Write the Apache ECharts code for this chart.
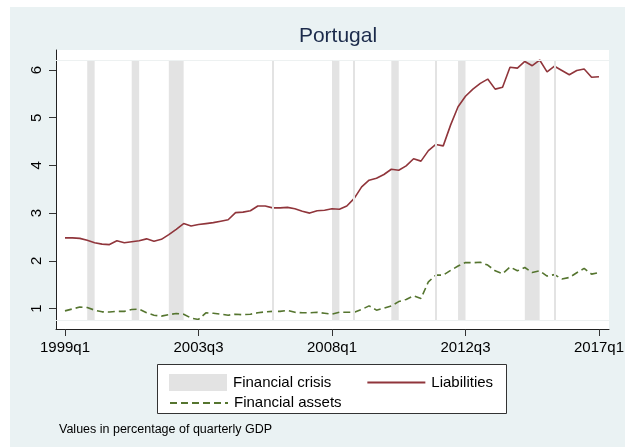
<!DOCTYPE html>
<html>
<head>
<meta charset="utf-8">
<script src="https://cdn.jsdelivr.net/npm/echarts@6/dist/echarts.min.js"></script>
<style>
  html, body { margin: 0; padding: 0; background: #fff; }
  #chart { width: 639px; height: 448px; }
</style>
</head>
<body>
<div id="chart"></div>
<script>
// quarter index 0 = 1999q1 ... 72 = 2017q1
const tickPositions = [0, 18, 36, 54, 72]
const tickLabels = ['1999q1', '2003q3', '2008q1', '2012q3', '2017q1']
const yTicks = [1, 2, 3, 4, 5, 6]

const liabilities = [
  2.48, 2.48, 2.47, 2.43, 2.38, 2.35, 2.34, 2.42, 2.38, 2.40,
  2.42, 2.46, 2.41, 2.45, 2.55, 2.66, 2.78, 2.73, 2.76, 2.78,
  2.80, 2.83, 2.86, 3.01, 3.02, 3.05, 3.15, 3.15, 3.11, 3.11,
  3.12, 3.09, 3.04, 3.00, 3.05, 3.06, 3.09, 3.08, 3.15, 3.31,
  3.55, 3.69, 3.73, 3.81, 3.92, 3.90, 3.99, 4.14, 4.09, 4.31,
  4.44, 4.41, 4.85, 5.23, 5.45, 5.60, 5.72, 5.81, 5.60, 5.64,
  6.06, 6.04, 6.18, 6.09, 6.21, 5.96, 6.08, 5.99, 5.90, 5.99,
  6.02, 5.85, 5.86
]

const assets = [
  0.95, 0.99, 1.03, 1.02, 0.965, 0.93, 0.925, 0.94, 0.94, 0.98,
  0.985, 0.91, 0.86, 0.84, 0.87, 0.895, 0.88, 0.80, 0.77, 0.91,
  0.90, 0.88, 0.86, 0.88, 0.87, 0.88, 0.91, 0.93, 0.94, 0.94,
  0.96, 0.92, 0.91, 0.91, 0.92, 0.90, 0.88, 0.92, 0.92, 0.92,
  0.98, 1.055, 0.965, 1.005, 1.055, 1.145, 1.19, 1.265, 1.21, 1.56,
  1.70, 1.70, 1.80, 1.89, 1.965, 1.96, 1.97, 1.91, 1.79, 1.73,
  1.87, 1.79, 1.86, 1.755, 1.79, 1.68, 1.71, 1.62, 1.65, 1.75,
  1.84, 1.72, 1.755
]

// crisis periods (quarter index), single quarters have start == end
const crisisStart = [3, 9, 14, 28, 36, 39, 44, 50, 53, 62, 66]
const crisisEnd = [4, 10, 16, 28, 37, 39, 45, 50, 54, 64, 66]
const shadeLow = 0.755
const shadeHigh = 6.21

const font = 'Liberation Sans, Arial, sans-serif'

const chart = echarts.init(document.getElementById('chart'))

const areas = []
const lines = []
crisisStart.forEach((s, i) => {
  const e = crisisEnd[i]
  if (e > s) {
    areas.push([{ xAxis: s, yAxis: shadeLow }, { xAxis: e, yAxis: shadeHigh }])
  } else {
    lines.push([{ coord: [s, shadeLow] }, { coord: [s, shadeHigh] }])
  }
})

const edgeLine = { lineStyle: { color: '#EDF1F1', width: 1 } }

chart.setOption({
  backgroundColor: '#EAF2F3',
  animation: false,
  title: {
    text: 'Portugal',
    left: 333,
    top: 21,
    textAlign: 'center',
    textStyle: { fontFamily: font, fontSize: 21, fontWeight: 'normal', color: '#1C2B4B' }
  },
  graphic: [
    // white margins round the graph region
    { type: 'rect', shape: { x: 0, y: 0, width: 639, height: 7 }, style: { fill: '#fff' }, silent: true },
    { type: 'rect', shape: { x: 0, y: 0, width: 10, height: 448 }, style: { fill: '#fff' }, silent: true },
    { type: 'rect', shape: { x: 625, y: 0, width: 14, height: 448 }, style: { fill: '#fff' }, silent: true },
    { type: 'rect', shape: { x: 0, y: 447, width: 639, height: 1 }, style: { fill: '#fff' }, silent: true },
    // legend box
    {
      type: 'rect',
      shape: { x: 157.5, y: 364.5, width: 349, height: 49 },
      style: { fill: '#fff', stroke: '#333', lineWidth: 1 },
      silent: true
    },
    {
      type: 'text',
      left: 59,
      top: 423,
      style: { text: 'Values in percentage of quarterly GDP', font: '12.5px ' + font, fill: '#000' },
      silent: true
    }
  ],
  grid: {
    left: 56,
    right: 30,
    top: 50,
    bottom: 119,
    show: true,
    backgroundColor: '#fff',
    borderWidth: 0
  },
  legend: [
    {
      left: 164,
      top: 369,
      itemWidth: 58,
      itemHeight: 17,
      itemGap: 35,
      textStyle: { fontFamily: font, fontSize: 15, color: '#000', padding: [0, 0, 0, 1] },
      data: [
        { name: 'Financial crisis', icon: 'rect' },
        { name: 'Liabilities', itemStyle: { opacity: 0 } }
      ]
    },
    {
      left: 164,
      top: 390.5,
      itemWidth: 58,
      itemHeight: 17,
      textStyle: { fontFamily: font, fontSize: 15, color: '#000', padding: [0, 0, 0, 1] },
      data: [{ name: 'Financial assets', itemStyle: { opacity: 0 } }]
    }
  ],
  xAxis: {
    type: 'value',
    min: -1.21,
    max: 73.35,
    splitLine: { show: false },
    axisLine: { show: true, onZero: false, lineStyle: { color: '#222', width: 1 } },
    axisTick: { show: true, length: 7, customValues: tickPositions, lineStyle: { color: '#333' } },
    axisLabel: {
      customValues: tickPositions,
      margin: 11,
      fontFamily: font,
      fontSize: 15,
      color: '#000',
      formatter: v => tickLabels[tickPositions.indexOf(Math.round(v))] || ''
    }
  },
  yAxis: {
    type: 'value',
    min: 0.57,
    max: 6.42,
    splitLine: { show: false },
    axisLine: { show: true, onZero: false, lineStyle: { color: '#222', width: 1 } },
    axisTick: { show: true, length: 7, customValues: yTicks, lineStyle: { color: '#333' } },
    axisLabel: {
      customValues: yTicks,
      rotate: 90,
      margin: 12,
      fontFamily: font,
      fontSize: 15,
      color: '#000'
    }
  },
  series: [
    {
      name: 'Financial crisis',
      type: 'line',
      data: [],
      color: '#E3E3E3',
      itemStyle: { color: '#E3E3E3' },
      z: 1,
      markArea: {
        silent: true,
        itemStyle: { color: '#E3E3E3' },
        data: areas
      },
      markLine: {
        silent: true,
        symbol: 'none',
        label: { show: false },
        lineStyle: { color: '#E3E3E3', width: 2, type: 'solid' },
        data: lines.concat([
          [{ coord: [-1.21, shadeHigh], ...edgeLine }, { coord: [73.35, shadeHigh] }],
          [{ coord: [-1.21, shadeLow], ...edgeLine }, { coord: [73.35, shadeLow] }]
        ])
      }
    },
    {
      name: 'Liabilities',
      type: 'line',
      symbol: 'none',
      color: '#90353B',
      lineStyle: { color: '#90353B', width: 1.6 },
      z: 3,
      data: liabilities.map((v, i) => [i, v])
    },
    {
      name: 'Financial assets',
      type: 'line',
      symbol: 'none',
      color: '#55752F',
      lineStyle: { color: '#55752F', width: 1.6, type: [7, 4] },
      z: 3,
      data: assets.map((v, i) => [i, v])
    }
  ]
})
</script>
</body>
</html>
